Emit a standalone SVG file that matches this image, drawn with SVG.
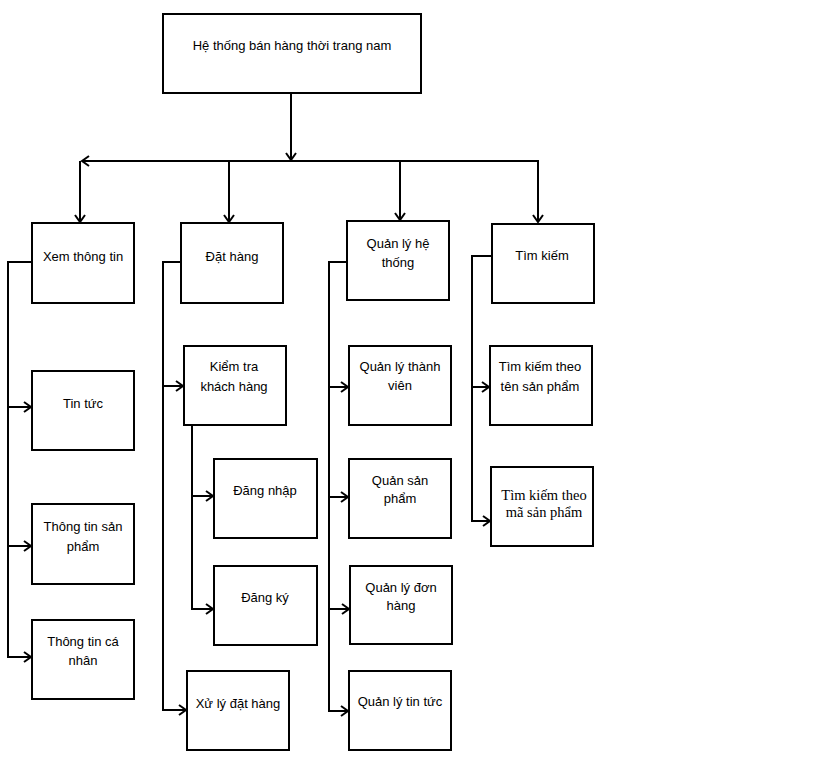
<svg xmlns="http://www.w3.org/2000/svg" width="819" height="759" viewBox="0 0 819 759">
<style>
.box{fill:#fff;stroke:#000;stroke-width:2}
.t{font-family:"Liberation Sans",Arial,sans-serif;font-size:13px;fill:#000;text-anchor:middle}
.s{font-family:"Liberation Serif","Times New Roman",serif;font-size:14.5px;fill:#000;text-anchor:middle}
.c{fill:none;stroke:#000;stroke-width:2}
</style>
<defs>
<marker id="ah" markerUnits="userSpaceOnUse" markerWidth="14" markerHeight="14" refX="10" refY="7" orient="auto">
<path d="M3,2 L10,7 L3,12" fill="none" stroke="#000" stroke-width="2"/>
</marker>
</defs>
<rect width="819" height="759" fill="#fff"/>
<g id="connectors" class="c">
<path d="M291,93 V160" marker-end="url(#ah)"/>
<path d="M538,161 H82" marker-end="url(#ah)"/>
<path d="M80,161 V222" marker-end="url(#ah)"/>
<path d="M229,161 V222" marker-end="url(#ah)"/>
<path d="M400,160 V220" marker-end="url(#ah)"/>
<path d="M538,160 V222" marker-end="url(#ah)"/>
<path d="M32,262 H8 V657 H31" marker-end="url(#ah)"/>
<path d="M8,407 H31" marker-end="url(#ah)"/>
<path d="M8,546 H31" marker-end="url(#ah)"/>
<path d="M181,262 H163 V710 H186" marker-end="url(#ah)"/>
<path d="M163,386 H183" marker-end="url(#ah)"/>
<path d="M192,425 V609 H213" marker-end="url(#ah)"/>
<path d="M192,496 H213" marker-end="url(#ah)"/>
<path d="M347,262 H329 V711 H348" marker-end="url(#ah)"/>
<path d="M329,387 H348" marker-end="url(#ah)"/>
<path d="M329,497 H348" marker-end="url(#ah)"/>
<path d="M329,609 H349" marker-end="url(#ah)"/>
<path d="M492,256 H472 V521 H490" marker-end="url(#ah)"/>
<path d="M472,387 H489" marker-end="url(#ah)"/>
</g>
<g id="root"><rect class="box" x="163" y="14" width="258" height="79"/><text class="t" x="292" y="50">Hệ thống bán hàng thời trang nam</text></g>
<g id="xem"><rect class="box" x="32" y="223" width="102" height="80"/><text class="t" x="83" y="261">Xem thông tin</text></g>
<g id="dat"><rect class="box" x="181" y="223" width="102" height="80"/><text class="t" x="232" y="261">Đặt hàng</text></g>
<g id="qlht"><rect class="box" x="347" y="221" width="102" height="79"/><text class="t" x="398" y="248">Quản lý hệ</text><text class="t" x="398" y="267">thống</text></g>
<g id="tim"><rect class="box" x="492" y="224" width="102" height="79"/><text class="t" x="542" y="260">Tìm kiếm</text></g>
<g id="tintuc"><rect class="box" x="32" y="371" width="102" height="79"/><text class="t" x="83" y="408">Tin tức</text></g>
<g id="ttsp"><rect class="box" x="32" y="504" width="102" height="80"/><text class="t" x="83" y="531">Thông tin sản</text><text class="t" x="83" y="551">phẩm</text></g>
<g id="ttcn"><rect class="box" x="32" y="620" width="102" height="79"/><text class="t" x="83" y="646">Thông tin cá</text><text class="t" x="83" y="665">nhân</text></g>
<g id="ktkh"><rect class="box" x="184" y="346" width="102" height="79"/><text class="t" x="234" y="371">Kiểm tra</text><text class="t" x="234" y="391">khách hàng</text></g>
<g id="dangnhap"><rect class="box" x="214" y="459" width="103" height="79"/><text class="t" x="265" y="495">Đăng nhập</text></g>
<g id="dangky"><rect class="box" x="214" y="566" width="103" height="79"/><text class="t" x="265" y="602">Đăng ký</text></g>
<g id="xuly"><rect class="box" x="187" y="671" width="102" height="79"/><text class="t" x="238" y="708">Xử lý đặt hàng</text></g>
<g id="qltv"><rect class="box" x="349" y="346" width="102" height="79"/><text class="t" x="400" y="371">Quản lý thành</text><text class="t" x="400" y="390">viên</text></g>
<g id="qlsp"><rect class="box" x="349" y="459" width="102" height="79"/><text class="t" x="400" y="485">Quản sản</text><text class="t" x="400" y="503">phẩm</text></g>
<g id="qldh"><rect class="box" x="350" y="566" width="102" height="78"/><text class="t" x="401" y="592">Quản lý đơn</text><text class="t" x="401" y="610">hàng</text></g>
<g id="qltt"><rect class="box" x="349" y="671" width="102" height="79"/><text class="t" x="400" y="706">Quản lý tin tức</text></g>
<g id="tkten"><rect class="box" x="490" y="346" width="102" height="79"/><text class="t" x="540" y="371">Tìm kiếm theo</text><text class="t" x="540" y="391">tên sản phẩm</text></g>
<g id="tkma"><rect class="box" x="491" y="467" width="102" height="79"/><text class="s" x="544" y="500">Tìm kiếm theo</text><text class="s" x="544" y="517">mã sản phẩm</text></g>
</svg>
